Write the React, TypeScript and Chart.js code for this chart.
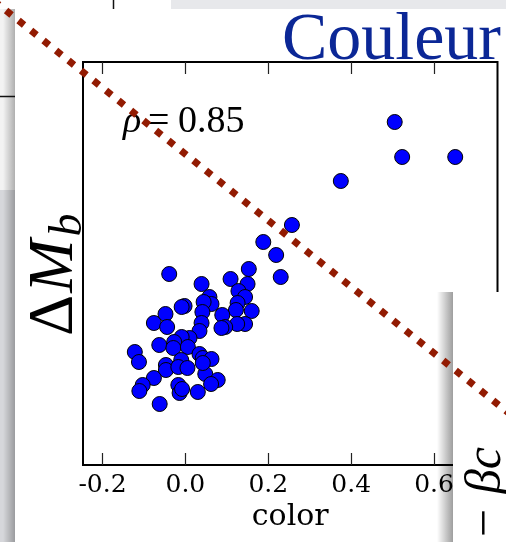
import React, { useEffect, useRef } from "react";
import { Chart, registerables } from "chart.js";
Chart.register(...registerables);

// scatter data: color vs ΔM_b (arbitrary vertical units, no y ticks in the source)
const colorValues = [
  0.505, 0.523, 0.651, 0.375, 0.257, 0.188, 0.219, 0.230, -0.039, 0.153,
  0.109, 0.039, 0.150, 0.128, 0.144, 0.058, 0.126, 0.063, 0.044, -0.002,
  -0.009, 0.160, 0.122, 0.041, 0.089, -0.048, -0.076, 0.039, -0.044, 0.144,
  0.125, 0.096, 0.087, 0.034, 0.010, -0.009, -0.027, -0.063, -0.029, 0.006,
  -0.122, -0.112, 0.034, 0.042, 0.063, -0.010, -0.047, -0.047, -0.017, 0.005,
  0.048, 0.078, 0.062, -0.076, -0.103, -0.111, -0.017, -0.014, -0.008, 0.030,
  -0.062, 0.042,
];
const deltaMb = [
  3.43, 3.08, 3.08, 2.84, 2.40, 2.23, 2.10, 1.88, 1.91, 1.96,
  1.86, 1.81, 1.81, 1.74, 1.68, 1.68, 1.62, 1.61, 1.63, 1.59,
  1.58, 1.54, 1.55, 1.53, 1.50, 1.51, 1.42, 1.42, 1.38, 1.41,
  1.41, 1.38, 1.37, 1.34, 1.27, 1.28, 1.23, 1.20, 1.17, 1.18,
  1.13, 1.03, 1.11, 1.07, 1.06, 1.05, 1.00, 0.95, 0.98, 0.97,
  0.91, 0.85, 0.81, 0.87, 0.80, 0.74, 0.80, 0.72, 0.76, 0.73,
  0.61, 1.02,
];
const xTicks = [-0.2, 0.0, 0.2, 0.4, 0.6];
// dotted red guide line (slide annotation), in data coordinates
const guideX = [-0.47, 0.804];
const guideY = [4.669, 0.44];

const titleText = "Couleur";
const rhoValue = "0.85";
const xTitle = "color";

export default function App() {
  const ref = useRef<HTMLCanvasElement>(null);
  useEffect(() => {
    const canvas = ref.current!;
    const W = 506, H = 542;
    const decor = {
      id: "decor",
      beforeDraw(chart: any) {
        const ctx = chart.ctx as CanvasRenderingContext2D;
        ctx.save();
        ctx.fillStyle = "#ffffff";
        ctx.fillRect(0, 0, W, H);
        ctx.fillStyle = "#e7e8eb";
        ctx.fillRect(171, 0, W - 171, 9);
        ctx.fillStyle = "#f3f3f3";
        ctx.fillRect(0, 9, 15, 181);
        ctx.fillStyle = "#d6d7db";
        ctx.fillRect(0, 190, 15, H - 190);
        const g = ctx.createLinearGradient(3, 0, 15, 0);
        g.addColorStop(0, "rgba(0,0,0,0)");
        g.addColorStop(1, "rgba(0,0,0,0.28)");
        ctx.fillStyle = g;
        ctx.fillRect(3, 9, 12, H - 9);
        ctx.strokeStyle = "#111";
        ctx.lineWidth = 1.5;
        ctx.beginPath();
        ctx.moveTo(113.5, 0);
        ctx.lineTo(113.5, 9);
        ctx.moveTo(0, 96.5);
        ctx.lineTo(15, 96.5);
        ctx.stroke();
        ctx.fillStyle = "#ffffff";
        ctx.fillRect(15, 9, W - 15, H - 9);

        // title
        ctx.fillStyle = "#0b2796";
        ctx.font = '68px "Liberation Serif"';
        ctx.textAlign = "right";
        ctx.textBaseline = "alphabetic";
        ctx.fillText(titleText, 501, 59);

        // rho annotation
        ctx.fillStyle = "#000";
        ctx.textAlign = "left";
        ctx.font = 'italic 38px "Liberation Serif"';
        ctx.fillText("ρ", 123, 132);
        ctx.font = '38px "Liberation Serif"';
        ctx.fillText("=", 148, 132);
        ctx.fillText(rhoValue, 178, 132);

        // y label ΔM_b
        ctx.save();
        ctx.translate(72, 336);
        ctx.rotate(-Math.PI / 2);
        ctx.font = '64px "Liberation Serif"';
        ctx.fillText("Δ", 0, 0);
        let w = ctx.measureText("Δ").width;
        ctx.font = 'italic 64px "Liberation Serif"';
        ctx.fillText("M", w + 2, 0);
        w += 2 + ctx.measureText("M").width;
        ctx.font = 'italic 46px "Liberation Serif"';
        ctx.fillText("b", w + 3, 9);
        ctx.restore();
        ctx.restore();
      },
      beforeDatasetsDraw(chart: any) {
        const ctx = chart.ctx as CanvasRenderingContext2D;
        const a = chart.chartArea;
        const sx = chart.scales.x;
        ctx.save();
        ctx.strokeStyle = "#000";
        ctx.lineWidth = 2;
        ctx.strokeRect(a.left, a.top, a.right - a.left, a.bottom - a.top);
        ctx.lineWidth = 1.2;
        ctx.strokeStyle = "#222";
        ctx.beginPath();
        xTicks.forEach((v) => {
          const px = Math.round(sx.getPixelForValue(v)) + 0.5;
          ctx.moveTo(px, a.bottom);
          ctx.lineTo(px, a.bottom - 12);
          ctx.moveTo(px, a.top);
          ctx.lineTo(px, a.top + 12);
        });
        ctx.stroke();

        // overlapping slide panel (bottom right)
        const g = ctx.createLinearGradient(437, 0, 453, 0);
        g.addColorStop(0, "rgba(0,0,0,0)");
        g.addColorStop(1, "rgba(0,0,0,0.38)");
        ctx.fillStyle = g;
        ctx.fillRect(437, 292, 16, H - 292);
        ctx.fillStyle = "#ffffff";
        ctx.fillRect(453, 292, W - 453, H - 292);
        ctx.translate(500, 447);
        ctx.rotate(-Math.PI / 2);
        ctx.fillStyle = "#000";
        ctx.font = 'italic 50px "Liberation Serif"';
        ctx.textAlign = "right";
        ctx.textBaseline = "alphabetic";
        ctx.fillText("− βc", 0, 0);
        ctx.restore();
      },
    };

    const chart = new Chart(canvas, {
      type: "scatter",
      data: {
        datasets: [
          {
            type: "line",
            data: guideX.map((x, i) => ({ x, y: guideY[i] })),
            borderColor: "#921b02",
            borderWidth: 7,
            borderDash: [7, 9],
            borderDashOffset: 12.1,
            borderCapStyle: "butt",
            pointRadius: 0,
            fill: false,
            clip: false,
            showLine: true,
            tension: 0,
          } as any,
          {
            data: colorValues.map((x, i) => ({ x, y: deltaMb[i] })),
            backgroundColor: "#0000ff",
            borderColor: "#000000",
            borderWidth: 1,
            pointRadius: 7.5,
          },
        ],
      },
      options: {
        responsive: false,
        animation: false,
        devicePixelRatio: 1,
        events: [],
        layout: { padding: { left: 83, top: 62, right: 7, bottom: 0 } },
        plugins: { legend: { display: false }, tooltip: { enabled: false } },
        scales: {
          x: {
            type: "linear",
            min: -0.247,
            max: 0.753,
            grid: { display: false, drawTicks: false },
            border: { display: false },
            afterFit: (s: any) => {
              s.height = 77;
            },
            afterBuildTicks: (s: any) => {
              s.ticks = xTicks.map((v) => ({ value: v }));
            },
            ticks: {
              padding: 5,
              color: "#000",
              autoSkip: false,
              maxRotation: 0,
              font: { family: "DejaVu Serif", size: 25 },
              callback: (v: any) => Number(v).toFixed(1),
            },
            title: {
              display: true,
              text: xTitle,
              color: "#000",
              font: { family: "DejaVu Serif", size: 30 },
              padding: { top: 0, bottom: 7 },
            },
          },
          y: { type: "linear", display: false, min: 0, max: 4.03 },
        },
      },
      plugins: [decor],
    } as any);
    return () => chart.destroy();
  }, []);

  return (
    <div style={{ position: "fixed", left: 0, top: 0, width: 506, height: 542 }}>
      <canvas ref={ref} width={506} height={542} style={{ display: "block" }} />
    </div>
  );
}
